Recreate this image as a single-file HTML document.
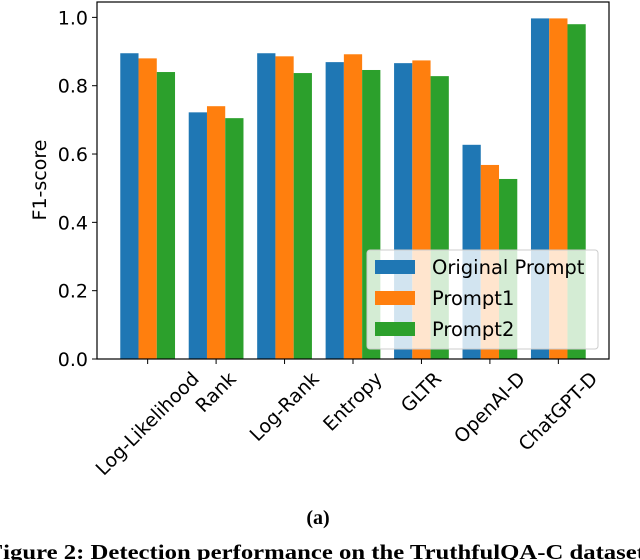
<!DOCTYPE html>
<html><head><meta charset="utf-8"><style>
body{margin:0;background:#fff;}
svg{display:block;font-family:"DejaVu Sans","Liberation Sans",sans-serif;}
</style></head><body>
<svg id="chart" width="640" height="560" viewBox="0 0 640 560">
<g id="plot"></g>
<text x="318" y="524" text-anchor="middle" font-family="'Liberation Serif',serif" font-weight="bold" font-size="20">(a)</text>
<text x="-12" y="559" textLength="657" lengthAdjust="spacingAndGlyphs" font-family="'Liberation Serif',serif" font-weight="bold" font-size="21">Figure 2: Detection performance on the TruthfulQA-C dataset</text>
</svg>
<script>
const categories=["Log-Likelihood","Rank","Log-Rank","Entropy","GLTR","OpenAI-D","ChatGPT-D"];
const seriesNames=["Original Prompt","Prompt1","Prompt2"];
const original=[0.895,0.722,0.895,0.869,0.866,0.627,0.997];
const prompt1=[0.880,0.740,0.886,0.892,0.874,0.568,0.997];
const prompt2=[0.840,0.705,0.837,0.846,0.828,0.527,0.980];
const yTicks=[0.0,0.2,0.4,0.6,0.8,1.0];
const yTickLabels=["0.0","0.2","0.4","0.6","0.8","1.0"];

const colors=["#1f77b4","#ff7f0e","#2ca02c"];
const series=[original,prompt1,prompt2];
const L=97,R=609,T=2,B=359;
const xmin=-0.74,xmax=6.74,ymax=1.045;
const NS="http://www.w3.org/2000/svg";
const g=document.getElementById('plot');
function X(v){return L+(v-xmin)/(xmax-xmin)*(R-L);}
function Y(v){return B-v/ymax*(B-T);}
function mk(t,a,p){const e=document.createElementNS(NS,t);for(const k in a)e.setAttribute(k,a[k]);(p||g).appendChild(e);return e;}
const w=0.8/3;
series.forEach((s,si)=>{
  s.forEach((v,i)=>{
    const x0=X(i-0.4+si*w),x1=X(i-0.4+(si+1)*w);
    const r=mk('rect',{x:x0,y:Y(v),width:x1-x0,height:Y(0)-Y(v),fill:colors[si]});
    
    
  });
});
const ax=mk('rect',{x:L,y:T,width:R-L,height:B-T,fill:'none',stroke:'#000','stroke-width':1.2});


yTicks.forEach((v,i)=>{
  mk('line',{x1:L-5,x2:L,y1:Y(v),y2:Y(v),stroke:'#000'});
  const t=mk('text',{x:L-9,y:Y(v)+7,'text-anchor':'end','font-size':19});
  t.textContent=yTickLabels[i];
  
  
});
const yl=mk('text',{x:0,y:0,'text-anchor':'middle','font-size':19,transform:'translate(46,180) rotate(-90)'});
yl.textContent='F1-score';


categories.forEach((c,i)=>{
  const x=X(i);
  mk('line',{x1:x,x2:x,y1:B,y2:B+5,stroke:'#000'});
  const t=mk('text',{x:0,y:0,'text-anchor':'middle','dominant-baseline':'central','font-size':19});
  t.textContent=c;
  
  
  const len=t.getComputedTextLength();
  const hgt=(len+19)*0.7071;
  t.setAttribute('transform','translate('+x+','+(B+10+hgt/2)+') rotate(-45)');
});
// legend
const lg=mk('g',{});


mk('rect',{x:367,y:250,width:231,height:99,rx:3,fill:'#fff','fill-opacity':0.8,stroke:'#ccc'},lg);
seriesNames.forEach((n,si)=>{
  const cy=267+si*31;
  mk('rect',{x:375,y:cy-7,width:40,height:14,fill:colors[si]},lg);
  const t=mk('text',{x:432,y:cy+7,'font-size':19.5},lg);
  t.textContent=n;
  
  
});
</script>
</body></html>
